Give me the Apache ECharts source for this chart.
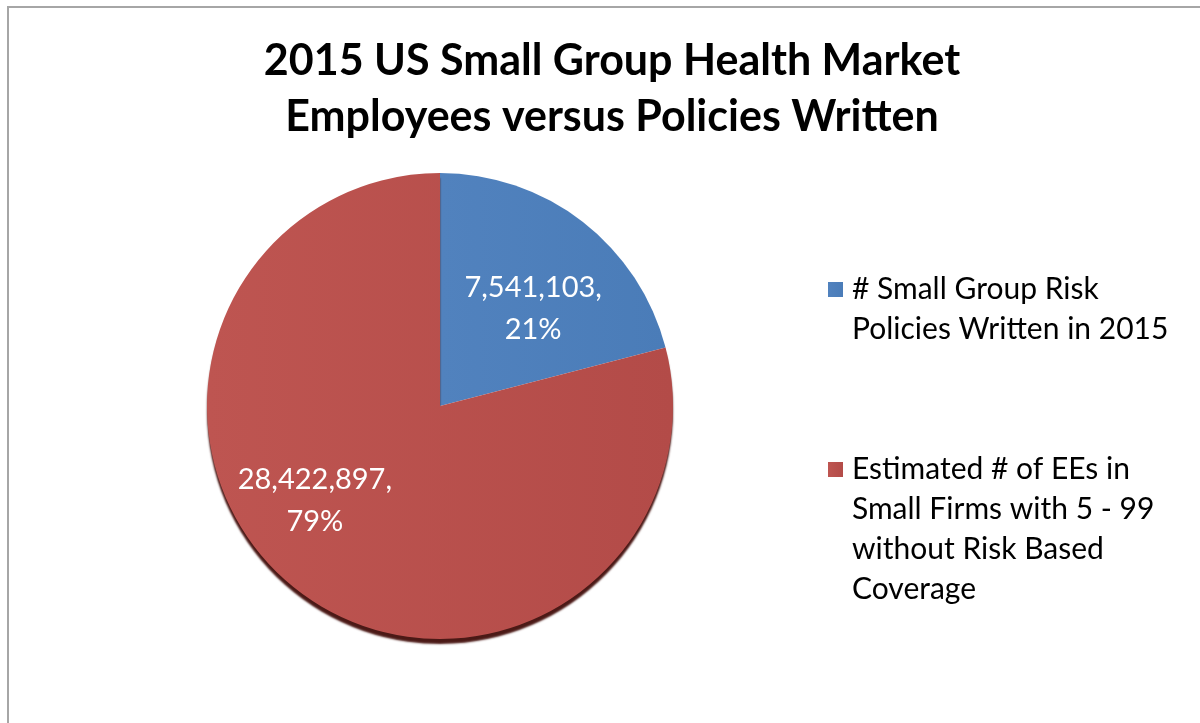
<!DOCTYPE html>
<html>
<head>
<meta charset="utf-8">
<script src="https://cdn.jsdelivr.net/npm/echarts@6/dist/echarts.min.js"></script>
<style>
    html, body { margin: 0; padding: 0; background: #fff; }
    #chart { width: 1200px; height: 723px; }
</style>
</head>
<body>
<div id="chart"></div>
<script>
const titleLines = ['2015 US Small Group Health Market', 'Employees versus Policies Written'];
const categories = [
    '# Small Group Risk Policies Written in 2015',
    'Estimated # of EEs in Small Firms with 5 - 99 without Risk Based Coverage'
];
const legendLines = [
    ['# Small Group Risk', 'Policies Written in 2015'],
    ['Estimated # of EEs in', 'Small Firms with 5 - 99', 'without Risk Based', 'Coverage']
];
const values = [7541103, 28422897];
const colors = ['#4F81BD', '#C0504D'];

const font = 'Lato, "Open Sans", sans-serif';
const lineH = 40;

const myChart = echarts.init(document.getElementById('chart'));

// Excel puts the legend square next to the first line of a wrapped name,
// so squares and texts are two separate legends
const legends = [{
    // squares only
    orient: 'vertical',
    left: 828,
    top: 282,
    padding: 0,
    itemWidth: 15,
    itemHeight: 15,
    itemGap: 165,
    selectedMode: false,
    icon: 'rect',
    data: categories,
    formatter: () => '',
    textStyle: { fontSize: 1 }
}, {
    // wrapped names only
    orient: 'vertical',
    left: 832,
    top: 269,
    padding: 0,
    itemWidth: 15,
    itemHeight: 15,
    itemGap: 100,
    selectedMode: false,
    icon: 'none',
    data: categories,
    formatter: (name) => legendLines[categories.indexOf(name)].join('\n'),
    textStyle: {
        fontFamily: font,
        fontSize: 30,
        color: '#000',
        lineHeight: lineH
    }
}];

const option = {
    animation: false,
    backgroundColor: '#fff',
    color: colors,
    title: {
        text: titleLines.join('\n'),
        left: 607,
        textAlign: 'center',
        top: 28,
        textStyle: {
            fontFamily: font,
            fontWeight: 'bold',
            fontSize: 43,
            lineHeight: 56,
            color: '#000'
        }
    },
    legend: legends,
    graphic: [{
        type: 'rect',
        shape: { x: 8, y: 7, width: 1400, height: 900 },
        style: { fill: 'none', stroke: '#A6A6A6', lineWidth: 2 },
        silent: true,
        z: -1
    }],
    series: [{
        type: 'pie',
        center: [440, 406],
        radius: ['0%', 233],
        startAngle: 90,
        clockwise: true,
        silent: true,
        data: categories.map((name, i) => ({
            name: name,
            value: values[i],
            itemStyle: i === 1 ? {
                color: {
                    type: 'linear', x: 0, y: 0, x2: 1, y2: 0,
                    colorStops: [{ offset: 0, color: '#BE5551' }, { offset: 1, color: '#B34B48' }]
                },
                shadowColor: 'rgba(75,25,22,1)',
                shadowBlur: 2,
                shadowOffsetY: 5
            } : {
                color: {
                    type: 'linear', x: 0, y: 0, x2: 1, y2: 0,
                    colorStops: [{ offset: 0, color: '#5182BE' }, { offset: 1, color: '#4A7CB8' }]
                }
            }
        })),
        label: {
            show: true,
            position: 'inside',
            color: '#fff',
            fontFamily: font,
            fontSize: 29,
            lineHeight: 42,
            formatter: (p) => p.value.toLocaleString('en-US') + ',\n' + Math.round(p.percent) + '%'
        },
        labelLayout: (p) => p.dataIndex === 1 ? { dx: -52, dy: 0 } : { dx: 20, dy: -3 },
        labelLine: { show: false }
    }]
};
myChart.setOption(option);
</script>
</body>
</html>
